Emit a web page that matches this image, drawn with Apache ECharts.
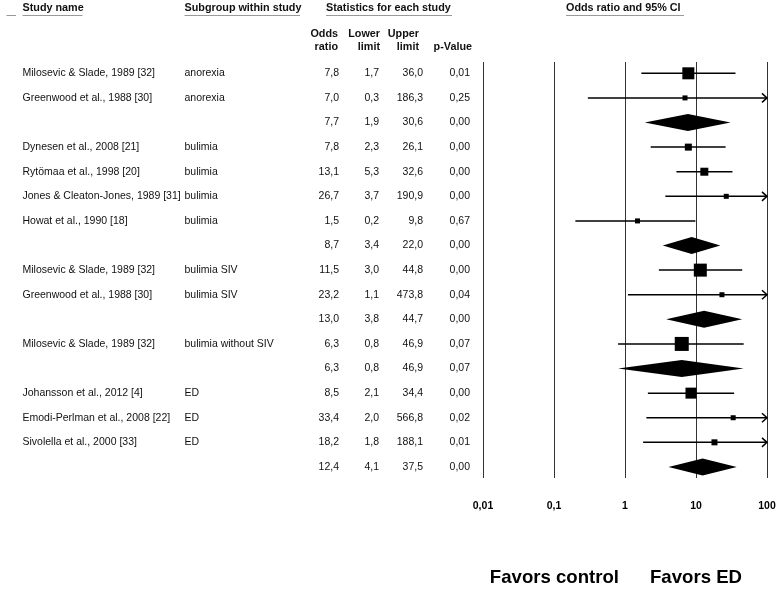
<!DOCTYPE html>
<html>
<head>
<meta charset="utf-8">
<script src="https://cdn.jsdelivr.net/npm/echarts@6.0.0/dist/echarts.min.js"></script>
<style>
  html, body { margin: 0; padding: 0; background: #fff; }
  #chart { width: 780px; height: 589px; }
</style>
</head>
<body>
<div id="chart"></div>
<script>
// ---- data ----
const studies = [
  'Milosevic & Slade, 1989 [32]', 'Greenwood et al., 1988 [30]', '',
  'Dynesen et al., 2008 [21]', 'Rytömaa et al., 1998 [20]', 'Jones & Cleaton-Jones, 1989 [31]', 'Howat et al., 1990 [18]', '',
  'Milosevic & Slade, 1989 [32]', 'Greenwood et al., 1988 [30]', '',
  'Milosevic & Slade, 1989 [32]', '',
  'Johansson et al., 2012 [4]', 'Emodi-Perlman et al., 2008 [22]', 'Sivolella et al., 2000 [33]', ''
];
const subgroups = [
  'anorexia', 'anorexia', '',
  'bulimia', 'bulimia', 'bulimia', 'bulimia', '',
  'bulimia SIV', 'bulimia SIV', '',
  'bulimia without SIV', '',
  'ED', 'ED', 'ED', ''
];
const oddsRatio = [7.8, 7.0, 7.7, 7.8, 13.1, 26.7, 1.5, 8.7, 11.5, 23.2, 13.0, 6.3, 6.3, 8.5, 33.4, 18.2, 12.4];
const lowerLimit = [1.7, 0.3, 1.9, 2.3, 5.3, 3.7, 0.2, 3.4, 3.0, 1.1, 3.8, 0.8, 0.8, 2.1, 2.0, 1.8, 4.1];
const upperLimit = [36.0, 186.3, 30.6, 26.1, 32.6, 190.9, 9.8, 22.0, 44.8, 473.8, 44.7, 46.9, 46.9, 34.4, 566.8, 188.1, 37.5];
const pValue = [0.01, 0.25, 0.00, 0.00, 0.00, 0.00, 0.67, 0.00, 0.00, 0.04, 0.00, 0.07, 0.07, 0.00, 0.02, 0.01, 0.00];
const isSummary = [0, 0, 1, 0, 0, 0, 0, 1, 0, 0, 1, 0, 1, 0, 0, 0, 1];
// relative study weight (square marker)
const weights = [12, 5, 0, 7, 8, 5, 5, 0, 13, 5, 0, 14, 0, 11, 5, 6, 0];
const tickValues = [0.01, 0.1, 1, 10, 100];
const tickLabels = ['0,01', '0,1', '1', '10', '100'];
const headers = ['Study name', 'Subgroup within study', 'Statistics for each study', 'Odds ratio and 95% CI'];
const statHeaders = [['Odds', 'ratio'], ['Lower', 'limit'], ['Upper', 'limit'], ['', 'p-Value']];
const footLabels = ['Favors control', 'Favors ED'];

// ---- layout ----
const FONT = '"Liberation Sans", Arial, sans-serif';
const fmt1 = v => v.toFixed(1).replace('.', ',');
const fmt2 = v => v.toFixed(2).replace('.', ',');
const X_MAX = tickValues[tickValues.length - 1];
const colRight = [339, 379, 423, 470];

const chart = echarts.init(document.getElementById('chart'), null, { renderer: 'canvas' });

const forestData = oddsRatio.map((v, i) => [v, i, lowerLimit[i], upperLimit[i], weights[i], isSummary[i]]);
const tableData = oddsRatio.map((v, i) => [1, i]);

function renderForest(params, api) {
  const or = api.value(0), row = api.value(1), lo = api.value(2), up = api.value(3);
  const w = api.value(4), summ = api.value(5);
  const c = api.coord([or, row]);
  const y = c[1];
  const xl = api.coord([lo, row])[0];
  const xu = api.coord([Math.min(up, X_MAX), row])[0];
  const children = [];
  if (summ) {
    const h = 8.5;
    children.push({
      type: 'polygon',
      shape: { points: [[xl, y], [c[0], y - h], [xu, y], [c[0], y + h]] },
      style: { fill: '#000' }
    });
  } else {
    children.push({
      type: 'line',
      shape: { x1: xl, y1: y, x2: xu, y2: y },
      style: { stroke: '#000', lineWidth: 1.5 }
    });
    if (up > X_MAX) {
      children.push({
        type: 'polyline',
        shape: { points: [[xu - 5, y - 4.5], [xu, y], [xu - 5, y + 4.5]] },
        style: { stroke: '#000', lineWidth: 1.5, fill: null }
      });
    }
    children.push({
      type: 'rect',
      shape: { x: c[0] - w / 2, y: y - w / 2, width: w, height: w },
      style: { fill: '#000' }
    });
  }
  return { type: 'group', children };
}

function renderTable(params, api) {
  const i = params.dataIndex;
  const y = api.coord([1, i])[1];
  const st = (text, x, align) => ({
    type: 'text',
    style: { text, x, y, align, verticalAlign: 'middle', fill: '#111', font: '10.5px ' + FONT }
  });
  const children = [
    st(studies[i], 22.5, 'left'),
    st(subgroups[i], 184.5, 'left'),
    st(fmt1(oddsRatio[i]), colRight[0], 'right'),
    st(fmt1(lowerLimit[i]), colRight[1], 'right'),
    st(fmt1(upperLimit[i]), colRight[2], 'right'),
    st(fmt2(pValue[i]), colRight[3], 'right')
  ];
  return { type: 'group', children };
}

const hdrFont = 'bold 10.8px ' + FONT;
const graphics = [];
const headerPos = [[22.5, 82.5], [184.5, 300], [326, 452], [566, 684]];
headers.forEach((h, k) => {
  graphics.push({
    type: 'text', left: headerPos[k][0], top: 3,
    style: { text: h, font: hdrFont, fill: '#111' }
  });
  graphics.push({
    type: 'line',
    shape: { x1: headerPos[k][0], y1: 15.5, x2: headerPos[k][1], y2: 15.5 },
    style: { stroke: '#999', lineWidth: 1 }
  });
});
graphics.push({
  type: 'line', shape: { x1: 6.5, y1: 15.5, x2: 16, y2: 15.5 },
  style: { stroke: '#999', lineWidth: 1 }
});
const statRight = [338, 380, 419, 472];
statHeaders.forEach((pair, k) => {
  pair.forEach((t, j) => {
    if (!t) return;
    graphics.push({
      type: 'text', x: statRight[k], y: j === 0 ? 34 : 47.5,
      style: { text: t, font: hdrFont, fill: '#111', align: 'right', verticalAlign: 'middle' }
    });
  });
});
graphics.push({
  type: 'text', x: 619, y: 578,
  style: { text: footLabels[0], font: 'bold 18.6px ' + FONT, fill: '#000', align: 'right', verticalAlign: 'middle' }
});
graphics.push({
  type: 'text', x: 650, y: 578,
  style: { text: footLabels[1], font: 'bold 18.6px ' + FONT, fill: '#000', align: 'left', verticalAlign: 'middle' }
});

chart.setOption({
  animation: false,
  backgroundColor: '#fff',
  grid: { left: 483, right: 13, top: 62, bottom: 111, containLabel: false },
  xAxis: {
    type: 'log', logBase: 10, min: tickValues[0], max: X_MAX,
    axisLine: { show: false },
    axisTick: { show: false },
    splitLine: { show: true, showMinLine: true, showMaxLine: true, lineStyle: { color: '#333', width: 1 } },
    axisLabel: {
      margin: 23,
      fontFamily: FONT, fontWeight: 'bold', fontSize: 10.5, color: '#000',
      formatter: v => tickLabels[Math.round(Math.log10(v)) + 2]
    }
  },
  yAxis: {
    type: 'value', inverse: true, min: -0.46, max: 16.45, show: false
  },
  graphic: graphics,
  series: [
    {
      type: 'custom', name: 'table', clip: false,
      encode: { x: 0, y: 1 },
      data: tableData, renderItem: renderTable, silent: true
    },
    {
      type: 'custom', name: 'forest', clip: false,
      encode: { x: 0, y: 1 },
      data: forestData, renderItem: renderForest, silent: true
    }
  ]
});
</script>
</body>
</html>
